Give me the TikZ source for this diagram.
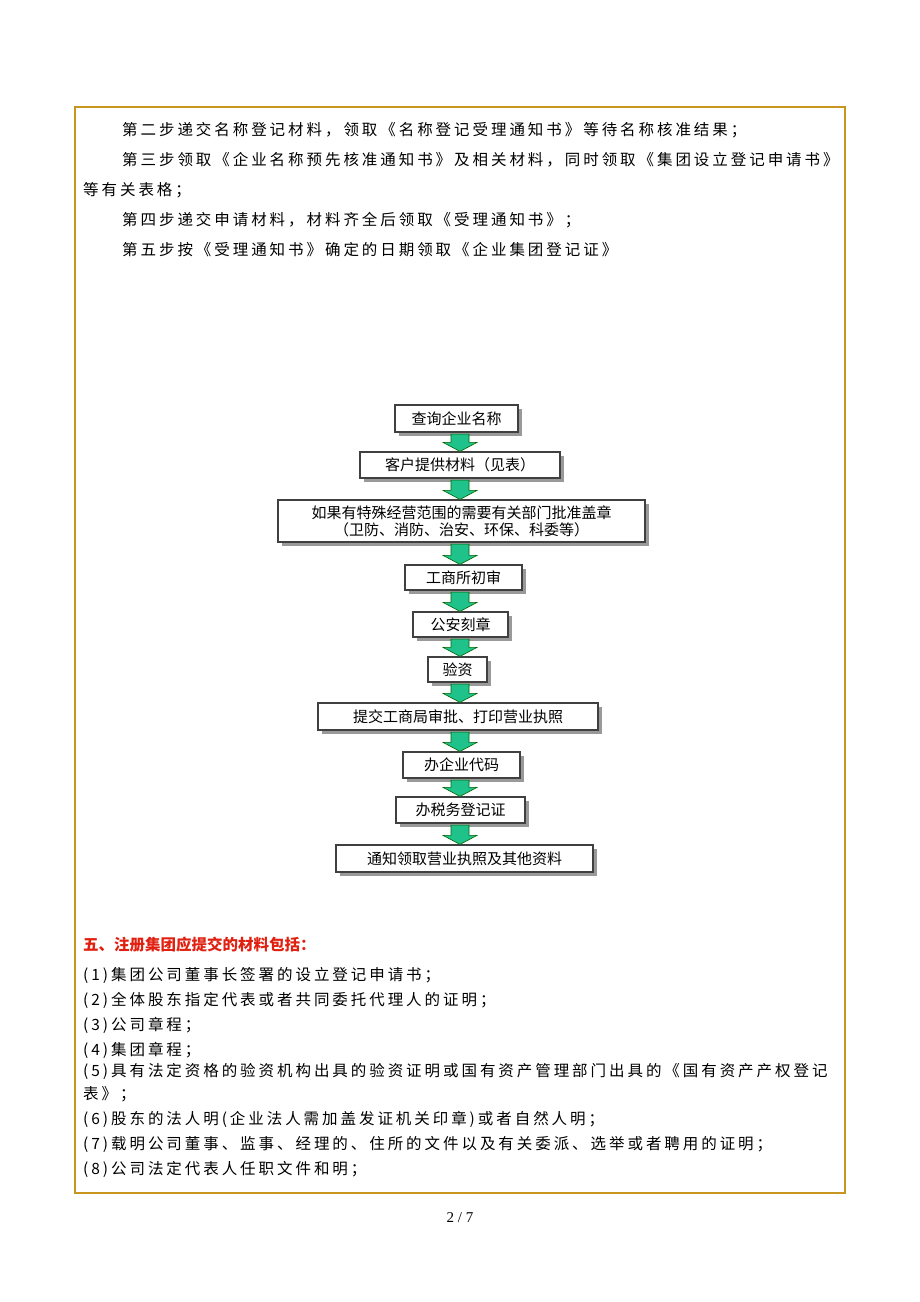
\documentclass[tikz,border=0pt]{standalone}
\usepackage{fontspec}
\usetikzlibrary{calc}
\setmainfont{Liberation Serif}
\newfontfamily\cjk[LetterSpace=19]{Noto Sans CJK SC}
\newfontfamily\cjkb{Noto Sans CJK SC}
\definecolor{frame}{HTML}{C8961E}
\definecolor{arrowg}{HTML}{1FC28A}
\definecolor{redt}{HTML}{E02010}
\begin{document}
\begin{tikzpicture}[x=1pt,y=-1pt,
  txt/.style={anchor=west,inner sep=0pt,font=\cjk\fontsize{15.5}{16}\selectfont},
  fbox/.style={draw=black!75,line width=1.2pt,fill=white,inner sep=0pt,font=\cjkb\fontsize{15}{17}\selectfont,align=center},
  shadowc/.style={fill=black!40}]
\useasboundingbox (0,0) rectangle (920,1302);
\draw[frame,line width=2.5pt] (75,107) rectangle (845,1193);
\node[txt] (l1) at (122,130) {第二步递交名称登记材料，领取《名称登记受理通知书》等待名称核准结果；};
\node[txt] (l2) at (122,160) {第三步领取《企业名称预先核准通知书》及相关材料，同时领取《集团设立登记申请书》};
\node[txt] (l3) at (83,190) {等有关表格；};
\node[txt] (l4) at (122,220) {第四步递交申请材料，材料齐全后领取《受理通知书》；};
\node[txt] (l5) at (122,250) {第五步按《受理通知书》确定的日期领取《企业集团登记证》};
% flow boxes
\foreach \n/\xa/\ya/\xb/\yb/\t in {
 b1/395/405/518/432/{查询企业名称},
 b2/360/452/560/478/{客户提供材料（见表）},
 b3/278/500/645/542/{如果有特殊经营范围的需要有关部门批准盖章\\（卫防、消防、治安、环保、科委等）},
 b4/405/565/522/590/{工商所初审},
 b5/413/612/508/637/{公安刻章},
 b6/428/657/487/682/{验资},
 b7/318/703/598/730/{提交工商局审批、打印营业执照},
 b8/403/752/520/778/{办企业代码},
 b9/396/797/525/823/{办税务登记证},
 b10/336/845/593/872/{通知领取营业执照及其他资料}}{
  \fill[shadowc] (\xa+4,\ya+4) rectangle (\xb+4,\yb+4);
  \node[fbox,minimum width=\xb-\xa,minimum height=\yb-\ya] (\n) at ({(\xa+\xb)/2},{(\ya+\yb)/2}) {\t};
}
\foreach \a/\b in {b1/b2,b2/b3,b3/b4,b4/b5,b5/b6,b6/b7,b7/b8,b8/b9,b9/b10}{
  \path (\a.south) ++(0,1.5) coordinate (s0) (\b.north) coordinate (e0);
  \coordinate (s) at (460,0 |- s0);
  \coordinate (e) at (460,0 |- e0);
  \draw[fill=arrowg,draw=green!40!black,line width=0.6pt]
    ($(s)+(-9,0)$) -- ($(s)+(9,0)$) -- ($(e)+(9,-9)$) -- ($(e)+(17,-9)$) -- (e) -- ($(e)+(-17,-9)$) -- ($(e)+(-9,-9)$) -- cycle;
}
% red heading and list
\node[txt,text=redt,font=\cjkb\bfseries\fontsize{15.5}{16}\selectfont] (h) at (83,945) {五、注册集团应提交的材料包括：};
\node[txt] (i1) at (83,975) {(1)集团公司董事长签署的设立登记申请书；};
\node[txt] (i2) at (83,1000) {(2)全体股东指定代表或者共同委托代理人的证明；};
\node[txt] (i3) at (83,1025) {(3)公司章程；};
\node[txt] (i4) at (83,1050) {(4)集团章程；};
\node[txt] (i5) at (83,1071) {(5)具有法定资格的验资机构出具的验资证明或国有资产管理部门出具的《国有资产产权登记};
\node[txt] (i5b) at (83,1094) {表》；};
\node[txt] (i6) at (83,1119) {(6)股东的法人明(企业法人需加盖发证机关印章)或者自然人明；};
\node[txt] (i7) at (83,1144) {(7)载明公司董事、监事、经理的、住所的文件以及有关委派、选举或者聘用的证明；};
\node[txt] (i8) at (83,1169) {(8)公司法定代表人任职文件和明；};
\node[font=\fontsize{15}{16}\selectfont] (pg) at (460,1218) {2 / 7};
\end{tikzpicture}
\end{document}
